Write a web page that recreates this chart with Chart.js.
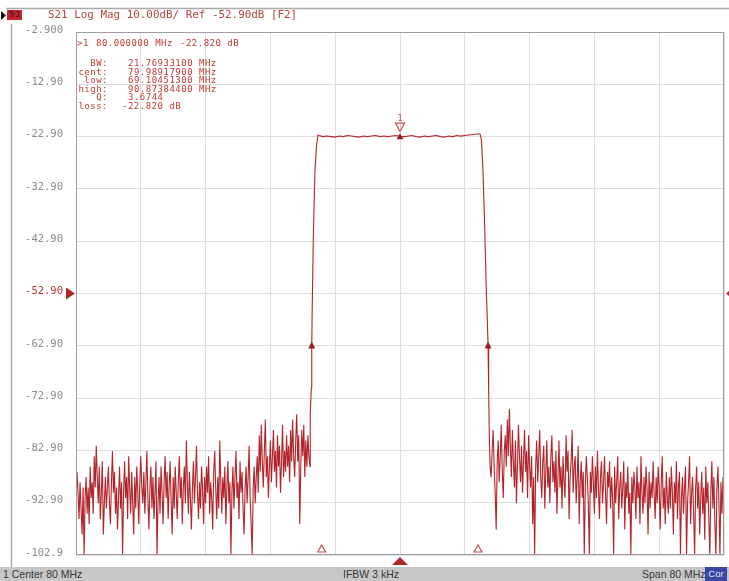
<!DOCTYPE html>
<html>
<head>
<meta charset="utf-8">
<script src="https://cdn.jsdelivr.net/npm/chart.js@4/dist/chart.umd.min.js"></script>
<style>
html,body{margin:0;padding:0;background:#fff;}
#wrap{position:relative;width:729px;height:581px;overflow:hidden;background:#fff;}
#wrap canvas{position:absolute;left:0;top:0;}
.t{position:absolute;white-space:pre;font-family:"DejaVu Sans Mono",monospace;line-height:1;}
.hdr{left:48px;top:10px;font-size:10.9px;color:#b3443c;}
.tr{position:absolute;left:7px;top:10px;width:15px;height:10px;background:#c4282e;color:#2a0000;font-family:"DejaVu Sans",sans-serif;font-size:7.5px;line-height:10px;text-align:center;overflow:visible;white-space:nowrap;}
.mk{font-size:9px;letter-spacing:0.5px;color:#c23a34;}
.lab{text-align:right;width:60px;}
#status{position:absolute;left:0;top:567px;width:729px;height:14px;background:#c7c7c7;}
.st{position:absolute;top:1px;font-family:"Liberation Sans",Arial,sans-serif;font-size:10.5px;color:#3a3a3a;line-height:13px;white-space:pre;}
#cor{position:absolute;left:705px;top:0;width:22px;height:14px;background:#3b4aa0;color:#dfe3f5;font-family:"Liberation Sans",Arial,sans-serif;font-size:9.5px;line-height:14px;text-align:center;}
</style>
</head>
<body>
<div id="wrap">
  <canvas id="c"></canvas>
  <div class="tr">Tr2</div>
  <div class="t hdr">S21 Log Mag 10.00dB/ Ref -52.90dB [F2]</div>

  <div class="t mk" style="left:77px;top:39px;">&gt;1</div>
  <div class="t mk" style="left:96px;top:39px;">80.000000 MHz</div>
  <div class="t mk" style="left:180px;top:39px;">-22.820 dB</div>

  <div class="t mk lab" style="left:48px;top:59px;">BW:</div>
  <div class="t mk" style="left:128px;top:59px;">21.76933100 MHz</div>
  <div class="t mk lab" style="left:48px;top:68px;">cent:</div>
  <div class="t mk" style="left:128px;top:68px;">79.98917900 MHz</div>
  <div class="t mk lab" style="left:48px;top:76px;">low:</div>
  <div class="t mk" style="left:128px;top:76px;">69.10451300 MHz</div>
  <div class="t mk lab" style="left:48px;top:85px;">high:</div>
  <div class="t mk" style="left:128px;top:85px;">90.87384400 MHz</div>
  <div class="t mk lab" style="left:48px;top:93px;">Q:</div>
  <div class="t mk" style="left:128px;top:93px;">3.6744</div>
  <div class="t mk lab" style="left:48px;top:102px;">loss:</div>
  <div class="t mk" style="left:122px;top:102px;">-22.820 dB</div>

  <div id="status">
    <div class="st" style="left:3px;">1 Center 80 MHz</div>
    <div class="st" style="left:343px;">IFBW 3 kHz</div>
    <div class="st" style="left:642px;">Span 80 MHz</div>
    <div id="cor">Cor</div>
  </div>
</div>
<script>
// ---------------- data ----------------
const startMHz = 40, stopMHz = 120, centerMHz = 80;
const refLevelDb = -52.9;
const yTickValues = [-2.9, -12.9, -22.9, -32.9, -42.9, -52.9, -62.9, -72.9, -82.9, -92.9, -102.9];
const yTickLabels = ["-2.900", "-12.90", "-22.90", "-32.90", "-42.90", "-52.90", "-62.90", "-72.90", "-82.90", "-92.90", "-102.9"];
const xGridMHz = [40, 48, 56, 64, 72, 80, 88, 96, 104, 112, 120];

// lower stopband noise, 40.000 .. 68.750 MHz every 0.125 MHz
const leftNoiseStartMHz = 40, leftNoiseStepMHz = 0.125;
const leftNoiseDb = [
  -93,-87,-91,-96,-89,-94,-99,-90,-102.9,-92,-88,-95,-90,-97,-86,-92,
  -89,-95,-84,-90,-82,-88,-93,-86,-96,-91,-85,-99,-93,-88,-94,-90,
  -86,-93,-97,-89,-83,-91,-87,-95,-90,-98,-92,-86,-94,-89,-102.9,-91,
  -85,-92,-88,-96,-84,-90,-95,-87,-93,-99,-88,-94,-86,-91,-97,-89,
  -84,-90,-93,-87,-95,-89,-83,-92,-98,-90,-86,-94,-88,-96,-91,-85,
  -102.9,-93,-88,-95,-86,-91,-97,-89,-84,-92,-87,-96,-90,-85,-93,-99,
  -88,-94,-86,-91,-96,-89,-84,-92,-88,-97,-90,-86,-93,-81,-89,-95,
  -87,-92,-98,-90,-85,-93,-88,-82,-91,-96,-89,-94,-86,-90,-97,-88,
  -93,-86,-91,-84,-95,-89,-92,-98,-87,-83,-90,-96,-88,-94,-81,-89,
  -95,-88,-92,-86,-97,-90,-85,-93,-89,-102.9,-91,-86,-94,-88,-83,-92,
  -89,-96,-85,-91,-87,-94,-99,-90,-86,-93,-88,-82,-92,-97,-102.9,-90,
  -86,-93,-88,-84,-91,-80,-87,-78,-85,-90,-83,-77,-88,-84,-92,-86,
  -81,-89,-84,-79,-87,-83,-90,-80,-86,-82,-91,-85,-78,-88,-83,-87,
  -80,-86,-82,-89,-79,-85,-77,-84,-88,-81,-76,-85,-80,-97,-86,-79,
  -84,-78,-88,-81,-86,-80,-84
];
// lower skirt
const leftSkirtMHz = [68.89, 68.92, 69.05, 69.1045, 69.15, 69.30, 69.50, 69.70, 69.88];
const leftSkirtDb  = [-86, -76, -71, -62.82, -57, -42, -29.5, -24.5, -22.6];
// passband, 70.0 .. 89.5 MHz every 0.5 MHz
const passStartMHz = 70, passStepMHz = 0.5;
const passDb = [
  -22.7, -22.9, -22.8, -22.9, -23.0, -22.8, -22.9, -22.7, -22.8, -22.9,
  -23.0, -22.8, -22.9, -22.8, -22.7, -22.9, -22.8, -22.9, -22.8, -22.7,
  -22.82, -22.9, -22.8, -22.7, -22.9, -23.0, -22.8, -22.9, -22.8, -22.7,
  -22.9, -23.0, -22.8, -22.9, -22.7, -22.8, -22.7, -22.6, -22.5, -22.4
];
// upper skirt
const rightSkirtMHz = [89.88, 90.05, 90.25, 90.45, 90.65, 90.80, 90.8738, 90.95, 91.05, 91.12];
const rightSkirtDb  = [-22.4, -23.5, -29.5, -40, -52, -59, -62.82, -72, -82, -86];
// upper stopband noise, 91.250 .. 120.000 MHz every 0.125 MHz
const rightNoiseStartMHz = 91.25, rightNoiseStepMHz = 0.125;
const rightNoiseDb = [
  -88,-83,-79,-86,-91,-98,-85,-81,-89,-84,-78,-87,-92,-83,-80,-86,
  -77,-84,-75,-82,-88,-79,-85,-90,-81,-93,-86,-78,-84,-89,-82,-91,
  -85,-79,-87,-83,-92,-80,-86,-90,-84,-97,-88,-102.9,-86,-81,-89,-84,
  -79,-88,-92,-85,-82,-94,-87,-81,-90,-86,-93,-84,-80,-89,-85,-91,
  -83,-95,-88,-81,-90,-86,-94,-84,-89,-92,-80,-87,-83,-96,-88,-85,
  -79,-91,-86,-84,-93,-88,-82,-97,-89,-85,-92,-87,-102.9,-90,-84,-88,
  -93,-102.9,-87,-91,-84,-89,-95,-86,-92,-83,-90,-96,-88,-85,-93,-89,
  -84,-91,-97,-87,-90,-85,-94,-88,-92,-102.9,-86,-93,-89,-84,-96,-90,
  -87,-94,-90,-85,-98,-89,-92,-86,-95,-91,-102.9,-88,-93,-87,-90,-96,
  -86,-92,-89,-97,-84,-91,-95,-88,-93,-86,-90,-99,-87,-94,-89,-92,
  -85,-91,-96,-88,-93,-86,-90,-98,-89,-84,-94,-90,-97,-87,-92,-95,
  -88,-94,-86,-91,-99,-89,-93,-85,-96,-90,-87,-102.9,-92,-88,-95,-90,
  -86,-102.9,-93,-89,-84,-97,-91,-88,-95,-102.9,-90,-86,-94,-89,-99,-92,
  -87,-95,-90,-100,-86,-93,-89,-96,-102.9,-91,-85,-94,-88,-97,-102.9,-90,
  -86,-93,-102.9,-89,-95,-88,-91
];

// markers
const marker1MHz = 80.0, marker1Db = -22.82;
const bwMarkMHz = [69.10451, 90.87384];
const bwMarkDb = -62.82;
const stimMarkMHz = [70.33, 89.63];

// ---------------- build trace ----------------
const trace = [];
leftNoiseDb.forEach((v, i) => trace.push({x: leftNoiseStartMHz + i * leftNoiseStepMHz, y: v}));
leftSkirtMHz.forEach((f, i) => trace.push({x: f, y: leftSkirtDb[i]}));
passDb.forEach((v, i) => trace.push({x: passStartMHz + i * passStepMHz, y: v}));
rightSkirtMHz.forEach((f, i) => trace.push({x: f, y: rightSkirtDb[i]}));
rightNoiseDb.forEach((v, i) => trace.push({x: rightNoiseStartMHz + i * rightNoiseStepMHz, y: v}));

const RED = '#b3242a';

function tri(ctx, pts, fill, stroke) {
  ctx.beginPath();
  ctx.moveTo(pts[0][0], pts[0][1]);
  for (let i = 1; i < pts.length; i++) ctx.lineTo(pts[i][0], pts[i][1]);
  ctx.closePath();
  if (fill) { ctx.fillStyle = fill; ctx.fill(); }
  if (stroke) { ctx.strokeStyle = stroke; ctx.lineWidth = 1.2; ctx.stroke(); }
}

const decor = {
  id: 'decor',
  afterDraw(chart) {
    const {ctx, chartArea: a} = chart;
    const xs = chart.scales.x, ys = chart.scales.y;
    ctx.save();
    ctx.strokeStyle = '#aaaaaa'; ctx.lineWidth = 1.5;
    ctx.beginPath(); ctx.moveTo(6, 8.5); ctx.lineTo(729, 8.5); ctx.stroke();
    ctx.beginPath(); ctx.moveTo(11.5, 24); ctx.lineTo(11.5, 567); ctx.stroke();
    ctx.strokeStyle = '#9e9e9e'; ctx.lineWidth = 1;
    ctx.strokeRect(a.left + 0.5, a.top + 0.5, a.right - a.left - 1, a.bottom - a.top - 1);
    tri(ctx, [[1, 11], [6, 15.5], [1, 20]], '#111');
    const yr = ys.getPixelForValue(refLevelDb);
    tri(ctx, [[a.left - 10, yr - 6], [a.left - 1, yr], [a.left - 10, yr + 6]], RED);
    tri(ctx, [[a.right + 2, yr], [a.right + 9, yr - 6], [a.right + 9, yr + 6]], RED);
    const xc = xs.getPixelForValue(centerMHz);
    tri(ctx, [[xc - 8, a.bottom + 10], [xc, a.bottom + 2], [xc + 8, a.bottom + 10]], RED);
    stimMarkMHz.forEach(f => {
      const xp = xs.getPixelForValue(f);
      tri(ctx, [[xp - 4, a.bottom - 3], [xp, a.bottom - 10], [xp + 4, a.bottom - 3]], null, '#c0504a');
    });
    bwMarkMHz.forEach(f => {
      const xp = xs.getPixelForValue(f), yp = ys.getPixelForValue(bwMarkDb);
      tri(ctx, [[xp - 3.5, yp + 3], [xp, yp - 4], [xp + 3.5, yp + 3]], '#9a1a20');
    });
    const xm = xs.getPixelForValue(marker1MHz), ym = ys.getPixelForValue(marker1Db);
    tri(ctx, [[xm - 3.5, ym + 3], [xm, ym - 3], [xm + 3.5, ym + 3]], '#9a1a20');
    tri(ctx, [[xm - 4.5, ym - 13], [xm + 4.5, ym - 13], [xm, ym - 5]], null, '#c0504a');
    ctx.fillStyle = '#c0504a';
    ctx.font = '9px "DejaVu Sans Mono", monospace';
    ctx.textAlign = 'center'; ctx.textBaseline = 'middle';
    ctx.fillText('1', xm, ym - 18);
    ctx.restore();
  }
};

new Chart(document.getElementById('c'), {
  type: 'scatter',
  data: {
    datasets: [{
      data: trace,
      showLine: true,
      borderColor: RED,
      borderWidth: 1.1,
      pointRadius: 0,
      tension: 0
    }]
  },
  options: {
    responsive: true,
    maintainAspectRatio: false,
    animation: false,
    events: [],
    layout: {padding: {left: 0, right: 5, top: 32, bottom: 26}},
    plugins: {legend: {display: false}, tooltip: {enabled: false}},
    scales: {
      x: {
        type: 'linear', min: startMHz, max: stopMHz,
        afterBuildTicks: s => { s.ticks = xGridMHz.map(v => ({value: v})); },
        afterFit: s => { s.height = 0; },
        ticks: {display: false},
        grid: {color: '#dedede', lineWidth: 1, drawTicks: false},
        border: {display: false}
      },
      y: {
        type: 'linear', min: -102.9, max: -2.9,
        afterBuildTicks: s => { s.ticks = yTickValues.map(v => ({value: v})); },
        afterFit: s => { s.width = 76; },
        ticks: {
          callback: (v, i) => yTickLabels[i],
          padding: 13,
          labelOffset: -2,
          font: {family: '"DejaVu Sans Mono", monospace', size: 10.5},
          color: ctx => (ctx.tick && Math.abs(ctx.tick.value - refLevelDb) < 1e-6) ? '#c0342e' : '#8a8a8a'
        },
        grid: {color: '#dedede', lineWidth: 1, drawTicks: false},
        border: {display: false}
      }
    }
  },
  plugins: [decor]
});
</script>
</body>
</html>
